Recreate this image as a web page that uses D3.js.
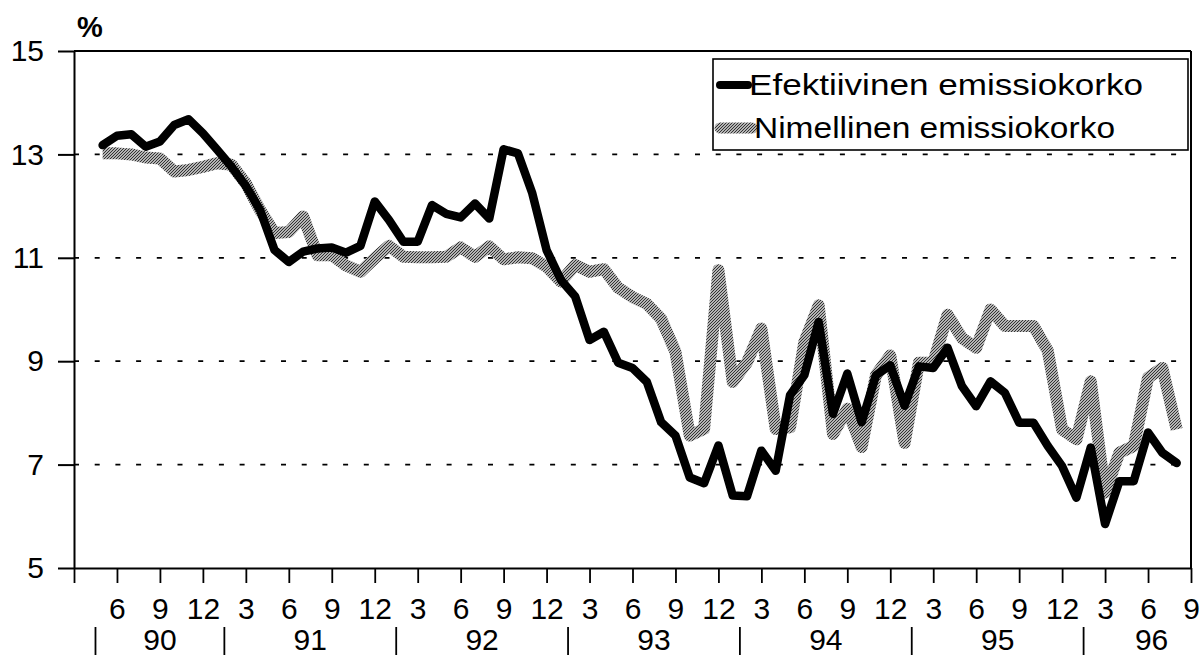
<!DOCTYPE html>
<html>
<head>
<meta charset="utf-8">
<script src="https://cdn.jsdelivr.net/npm/d3@7/dist/d3.min.js"></script>
<style>
  body { margin: 0; background: #fff; }
  svg { display: block; }
</style>
</head>
<body>
<div id="chart"></div>
<script>
// Emissiokorot kuukausittain, 5/1990 - 8/1996 (%)
const seriesNames = ['Efektiivinen emissiokorko', 'Nimellinen emissiokorko'];
const firstMonth = 2; // months after 3/1990, i.e. toukokuu 1990

const efektiivinen = [
  13.18, 13.36, 13.39, 13.15, 13.25, 13.57, 13.68, 13.41, 13.09, 12.76,
  12.39, 11.92, 11.15, 10.92, 11.12, 11.18, 11.20, 11.10, 11.23, 12.09,
  11.73, 11.31, 11.31, 12.02, 11.85, 11.78, 12.05, 11.76, 13.10, 13.02,
  12.25, 11.15, 10.57, 10.25, 9.41, 9.57, 8.97, 8.87, 8.60, 7.82,
  7.56, 6.75, 6.64, 7.37, 6.40, 6.39, 7.27, 6.88, 8.34, 8.73,
  9.76, 7.98, 8.76, 7.82, 8.73, 8.92, 8.14, 8.90, 8.87, 9.26,
  8.52, 8.13, 8.61, 8.39, 7.81, 7.81, 7.36, 6.97, 6.36, 7.33,
  5.85, 6.68, 6.68, 7.62, 7.23, 7.03
];

const nimellinen = [
  13.02, 13.02, 13.00, 12.94, 12.92, 12.67, 12.70, 12.76, 12.83, 12.80,
  12.44, 11.92, 11.48, 11.50, 11.80, 11.05, 11.05, 10.85, 10.73, 10.99,
  11.23, 11.02, 11.01, 11.01, 11.02, 11.20, 11.02, 11.22, 10.97, 11.01,
  10.99, 10.83, 10.54, 10.86, 10.73, 10.78, 10.42, 10.24, 10.11, 9.82,
  9.18, 7.56, 7.69, 10.76, 8.60, 8.98, 9.63, 7.69, 7.72, 9.37,
  10.08, 7.59, 8.08, 7.34, 8.73, 9.11, 7.42, 8.97, 8.97, 9.90,
  9.45, 9.26, 10.00, 9.68, 9.68, 9.68, 9.20, 7.68, 7.49, 8.61,
  6.46, 7.23, 7.36, 8.68, 8.87, 7.68
];

const yTicks = [5, 7, 9, 11, 13, 15];
const gridValues = [7, 9, 11, 13];
const monthTicks = [0, 3, 6, 9, 12, 15, 18, 21, 24, 27, 30, 33, 36, 39, 42, 45, 48, 51, 54, 57, 60, 63, 66, 69, 72, 75, 78];
const monthLabels = ['', '6', '9', '12', '3', '6', '9', '12', '3', '6', '9', '12', '3', '6', '9', '12',
  '3', '6', '9', '12', '3', '6', '9', '12', '3', '6', '9'];
const years = ['90', '91', '92', '93', '94', '95', '96'];
const yearBreaks = [1.5, 10.5, 22.5, 34.5, 46.5, 58.5, 70.5, 80];

const W = 1202, H = 655;
const margin = { top: 51, right: 11, bottom: 87, left: 74 };
const width = W - margin.left - margin.right;
const height = H - margin.top - margin.bottom;
const font = '"Liberation Sans", Arial, sans-serif';

const svg = d3.select('#chart').append('svg')
  .attr('width', W)
  .attr('height', H);

// hatch used for the grey (nominal) line
const defs = svg.append('defs');
const pat = defs.append('pattern')
  .attr('id', 'hatch')
  .attr('patternUnits', 'userSpaceOnUse')
  .attr('width', 3)
  .attr('height', 3);
pat.append('rect').attr('width', 3).attr('height', 3).attr('fill', '#b4b4b4');
pat.append('path').attr('d', 'M0,3 L3,0').attr('stroke', '#333').attr('stroke-width', 1);

const g = svg.append('g').attr('transform', `translate(${margin.left},${margin.top})`);

const x = d3.scaleLinear().domain([0, 78]).range([0, width]);
const y = d3.scaleLinear().domain([5, 15]).range([height, 0]);

// dashed gridlines
g.selectAll('.grid')
  .data(gridValues)
  .enter()
  .append('line')
  .attr('class', 'grid')
  .attr('x1', 0)
  .attr('x2', width)
  .attr('y1', d => y(d))
  .attr('y2', d => y(d))
  .attr('stroke', '#000')
  .attr('stroke-width', 1.8)
  .attr('stroke-dasharray', '5,15.7');

// y axis
const yAxis = g.append('g')
  .call(d3.axisLeft(y).tickValues(yTicks).tickSizeInner(16).tickSizeOuter(0).tickPadding(14));
yAxis.select('.domain').attr('stroke-width', 2);
yAxis.selectAll('.tick line').attr('stroke-width', 2);
yAxis.selectAll('.tick text')
  .style('font-family', font)
  .style('font-size', '30px')
  .attr('fill', '#000');

// x axis
const xAxis = g.append('g')
  .attr('transform', `translate(0,${height})`)
  .call(d3.axisBottom(x).tickValues(monthTicks).tickSizeInner(15).tickSizeOuter(0).tickPadding(15)
    .tickFormat((d, i) => monthLabels[i]));
xAxis.select('.domain').attr('stroke-width', 2);
xAxis.selectAll('.tick line').attr('stroke-width', 1.8);
xAxis.selectAll('.tick text')
  .style('font-family', font)
  .style('font-size', '30px')
  .attr('fill', '#000');

// top and right frame
g.append('line')
  .attr('x1', 0).attr('x2', width)
  .attr('y1', 0).attr('y2', 0)
  .attr('stroke', '#000').attr('stroke-width', 2);
g.append('line')
  .attr('x1', width).attr('x2', width)
  .attr('y1', 0).attr('y2', height)
  .attr('stroke', '#000').attr('stroke-width', 2);

// year row
const yearRow = g.append('g').attr('transform', `translate(0,${height})`);
yearRow.selectAll('.sep')
  .data(yearBreaks.slice(0, years.length))
  .enter()
  .append('line')
  .attr('x1', d => x(d)).attr('x2', d => x(d))
  .attr('y1', 59).attr('y2', 88)
  .attr('stroke', '#000').attr('stroke-width', 1.8);
yearRow.selectAll('.year')
  .data(years)
  .enter()
  .append('text')
  .attr('x', (d, i) => x((yearBreaks[i] + yearBreaks[i + 1]) / 2))
  .attr('y', 82)
  .attr('text-anchor', 'middle')
  .style('font-family', font)
  .style('font-size', '30px')
  .text(d => d);

// % label
svg.append('text')
  .attr('x', 77)
  .attr('y', 37)
  .style('font-family', font)
  .style('font-size', '29px')
  .style('font-weight', 'bold')
  .text('%');

// lines
const line = d3.line()
  .x((d, i) => x(i + firstMonth))
  .y(d => y(d));

g.append('path')
  .datum(nimellinen)
  .attr('d', line)
  .attr('fill', 'none')
  .attr('stroke', 'url(#hatch)')
  .attr('stroke-width', 12)
  .attr('stroke-linejoin', 'round');

g.append('path')
  .datum(efektiivinen)
  .attr('d', line)
  .attr('fill', 'none')
  .attr('stroke', '#000')
  .attr('stroke-width', 8.5)
  .attr('stroke-linejoin', 'round')
  .attr('stroke-linecap', 'round');

// legend
const legend = svg.append('g');
legend.append('rect')
  .attr('x', 713).attr('y', 59)
  .attr('width', 475).attr('height', 91)
  .attr('fill', '#fff')
  .attr('stroke', '#000')
  .attr('stroke-width', 1.6);

const legendItems = [
  { name: seriesNames[0], stroke: '#000', sw: 8, x0: 720, x1: 748, ty: 85, tx: 749, len: 394 },
  { name: seriesNames[1], stroke: 'url(#hatch)', sw: 11, x0: 720, x1: 752, ty: 128, tx: 754, len: 361 }
];
legendItems.forEach(it => {
  legend.append('line')
    .attr('x1', it.x0).attr('x2', it.x1)
    .attr('y1', it.ty).attr('y2', it.ty)
    .attr('stroke', it.stroke)
    .attr('stroke-width', it.sw)
    .attr('stroke-linecap', 'round');
  legend.append('text')
    .attr('x', it.tx)
    .attr('y', it.ty + 10)
    .attr('textLength', it.len)
    .attr('lengthAdjust', 'spacingAndGlyphs')
    .style('font-family', font)
    .style('font-size', '29px')
    .text(it.name);
});
</script>
</body>
</html>
